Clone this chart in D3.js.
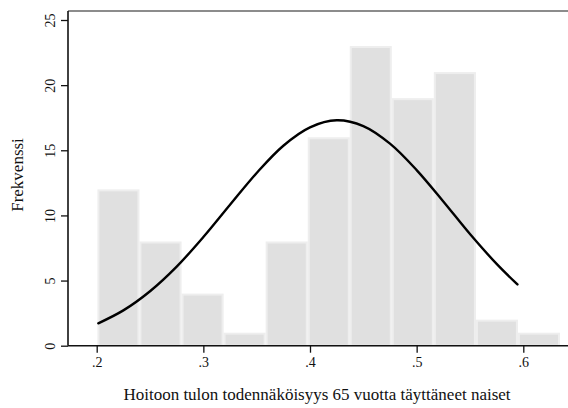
<!DOCTYPE html>
<html>
<head>
<meta charset="utf-8">
<script src="https://cdn.jsdelivr.net/npm/d3@7"></script>
<style>
  html, body { margin: 0; padding: 0; background: #fff; }
  svg { display: block; }
  svg text { font-family: "Liberation Serif", "Times New Roman", Times, serif !important; }
</style>
</head>
<body>
<svg id="chart" width="568" height="408"></svg>
<script>
// histogram bins (left edges) and counts
const binEdges = [0.2007, 0.2401, 0.2796, 0.3190, 0.3584, 0.3979, 0.4373, 0.4767, 0.5161, 0.5556, 0.5950, 0.6344];
const counts = [12, 8, 4, 1, 8, 16, 23, 19, 21, 2, 1];

// overlaid normal curve
const curveX = [0.2015, 0.225, 0.25, 0.275, 0.30, 0.325, 0.35, 0.375, 0.40, 0.425, 0.45, 0.475, 0.50, 0.525, 0.55, 0.575, 0.5945];
const curveY = [1.72, 2.71, 4.18, 6.07, 8.34, 10.82, 13.26, 15.35, 16.76, 17.30, 16.86, 15.51, 13.48, 11.07, 8.57, 6.28, 4.70];

const xTicks = [0.2, 0.3, 0.4, 0.5, 0.6];
const xTickLabels = [".2", ".3", ".4", ".5", ".6"];
const yTicks = [0, 5, 10, 15, 20, 25];

const xTitle = "Hoitoon tulon todennäköisyys 65 vuotta täyttäneet naiset";
const yTitle = "Frekvenssi";

const svg = d3.select("#chart");
const plot = { left: 68, right: 568, top: 11, bottom: 345.7 };

const x = d3.scaleLinear().domain([0.2, 0.6]).range([96.7, 523.3]);
const y = d3.scaleLinear().domain([0, 25]).range([plot.bottom, 20]);

const bins = counts.map((c, i) => ({ x0: binEdges[i], x1: binEdges[i + 1], count: c }));

// bars
svg.append("g")
  .selectAll("rect")
  .data(bins)
  .join("rect")
  .attr("x", (d) => x(d.x0) + 1)
  .attr("y", (d) => y(d.count) + 1)
  .attr("width", (d) => x(d.x1) - x(d.x0) - 2)
  .attr("height", (d) => y(0) - y(d.count) - 1)
  .attr("fill", "#e0e0e0")
  .attr("stroke", "#eeeeee")
  .attr("stroke-width", 2);

// normal curve
const pts = curveX.map((v, i) => [v, curveY[i]]);
svg.append("path")
  .datum(pts)
  .attr("fill", "none")
  .attr("stroke", "#000")
  .attr("stroke-width", 2.4)
  .attr("stroke-linecap", "round")
  .attr("d", d3.line().x((d) => x(d[0])).y((d) => y(d[1])).curve(d3.curveCatmullRom));

// top border
svg.append("line")
  .attr("x1", plot.left).attr("x2", plot.right)
  .attr("y1", plot.top).attr("y2", plot.top)
  .attr("stroke", "#666").attr("stroke-width", 1.4);

// y axis
const yAxis = svg.append("g")
  .attr("transform", `translate(${plot.left},0)`)
  .call(d3.axisLeft(y).tickValues(yTicks).tickSize(7).tickPadding(0).tickFormat(d3.format("d")));
yAxis.attr("font-family", null);
yAxis.select(".domain").attr("d", `M0,${plot.top}V${plot.bottom}`).attr("stroke", "#111").attr("stroke-width", 1.6);
yAxis.selectAll(".tick line").attr("stroke", "#111").attr("stroke-width", 1.3);
yAxis.selectAll(".tick text")
  .attr("transform", "rotate(-90)")
  .attr("x", 0).attr("y", -13)
  .attr("dy", 0)
  .attr("text-anchor", "middle")
  .attr("fill", "#111")
  .style("font-size", "14px");

// x axis
const xAxis = svg.append("g")
  .attr("transform", `translate(0,${plot.bottom})`)
  .call(d3.axisBottom(x).tickValues(xTicks).tickSize(7).tickPadding(4).tickFormat((d, i) => xTickLabels[i]));
xAxis.attr("font-family", null);
xAxis.select(".domain").attr("d", `M${plot.left},0H${plot.right}`).attr("stroke", "#111").attr("stroke-width", 1.6);
xAxis.selectAll(".tick line").attr("stroke", "#111").attr("stroke-width", 1.3);
xAxis.selectAll(".tick text")
  .attr("fill", "#111")
  .style("font-size", "14px");

// axis titles
svg.append("text")
  .attr("x", 317).attr("y", 400)
  .attr("text-anchor", "middle")
  .style("font-size", "17px")
  .attr("fill", "#111")
  .text(xTitle);

svg.append("text")
  .attr("transform", "translate(23,175) rotate(-90)")
  .attr("text-anchor", "middle")
  .style("font-size", "17px")
  .attr("fill", "#111")
  .text(yTitle);
</script>
</body>
</html>
